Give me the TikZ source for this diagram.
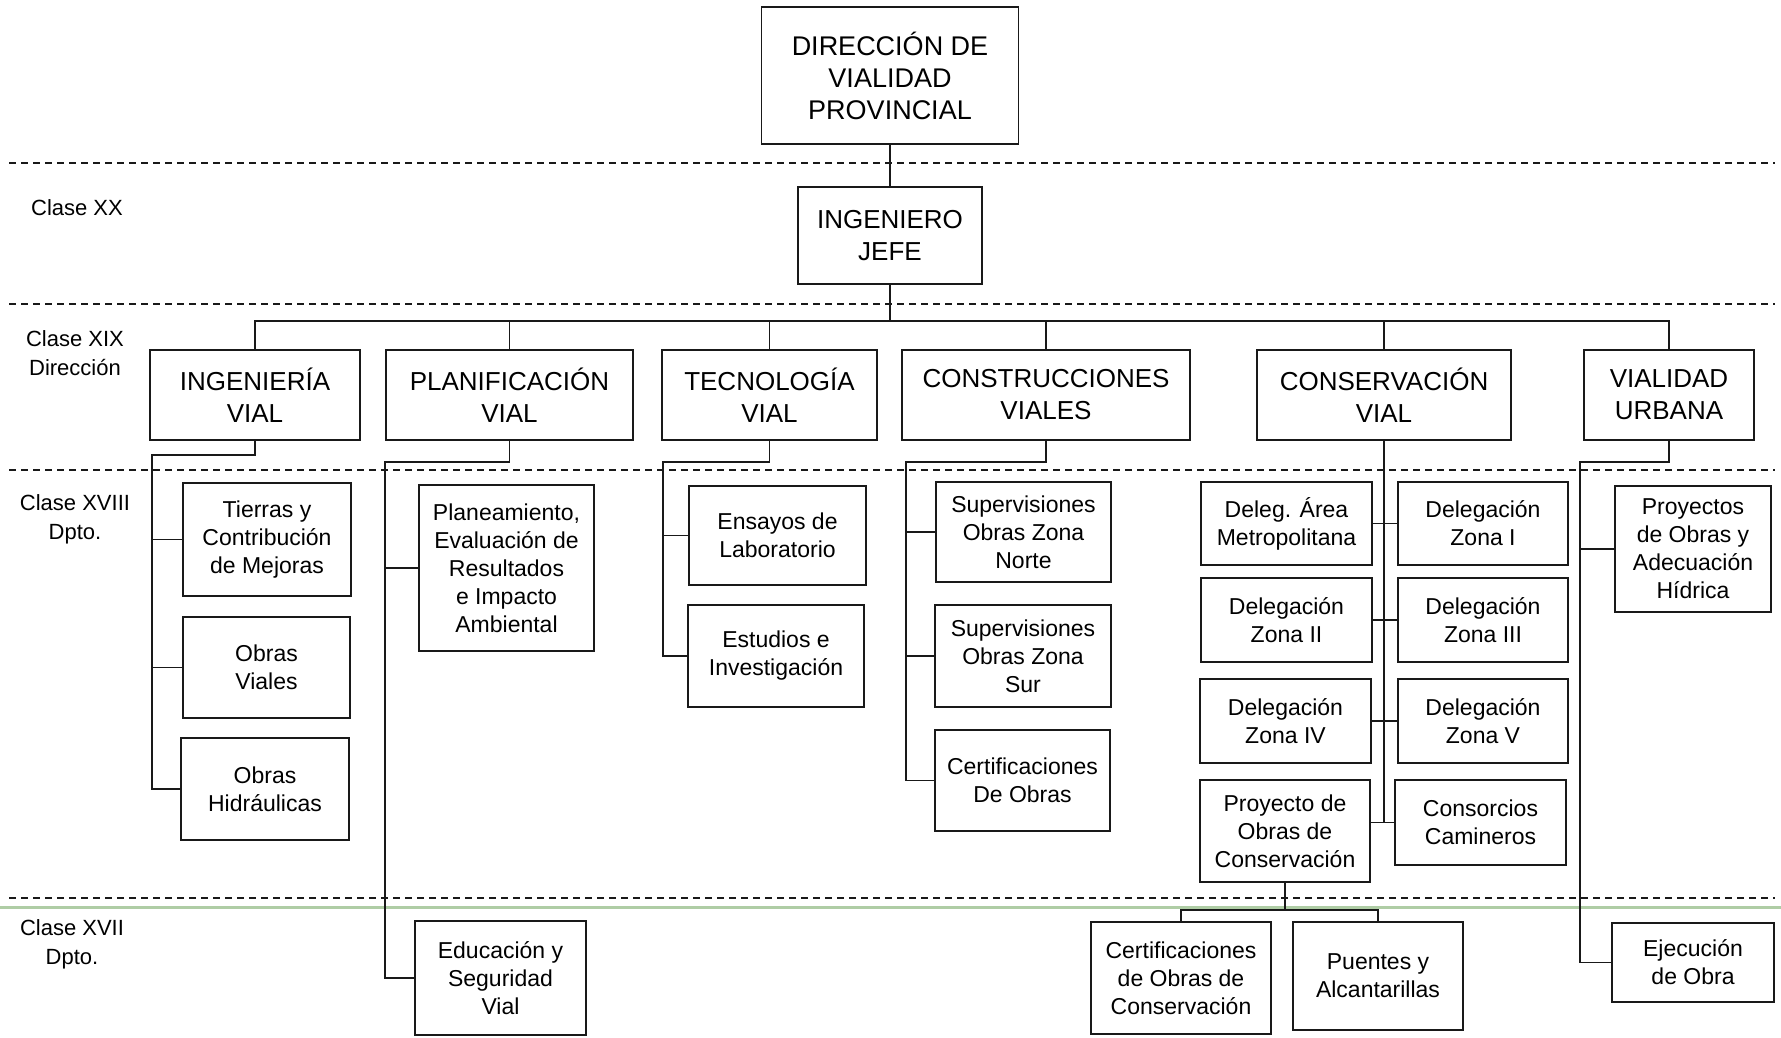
\documentclass[tikz,border=0pt]{standalone}
\usepackage{xcolor}
\usepackage{fontspec}
\usepackage{tikz}
\usetikzlibrary{calc,positioning}
\setmainfont{Liberation Sans}
\definecolor{lineColor}{RGB}{25, 25, 25}
\definecolor{scanColor}{RGB}{175, 205, 165}

\begin{document}
\begin{tikzpicture}[x=1pt,y=-1pt,
    topBox/.style={draw=lineColor,line width=1.6pt,align=center,inner sep=0pt,
      font=\fontsize{26}{32}\selectfont},
    deptBox/.style={draw=lineColor,line width=1.6pt,align=center,inner sep=0pt,
      font=\fontsize{23}{28}\selectfont},
    linkLine/.style={draw=lineColor,line width=1.6pt},
    classSep/.style={draw=lineColor,line width=1.3pt,dash pattern=on 7pt off 5pt},
    classLabel/.style={align=center,font=\fontsize{22}{29}\selectfont}]
    \useasboundingbox (0,0) rectangle (1781,1037);

    % Class separators
    \foreach \y in {163,304,470,898}
        \draw[classSep] (9,\y) -- (1775,\y);
    \draw[scanColor,line width=3pt] (0,907) -- (1781,907);

    % Class labels
    \node[classLabel] (lblXX) at (77,208) {Clase XX};
    \node[classLabel] (lblXIX) at (75,353) {Clase XIX\\Dirección};
    \node[classLabel] (lblXVIII) at (75,519) {Clase XVIII\\Dpto.};
    \node[classLabel] (lblXVII) at (72,944) {Clase XVII\\Dpto.};

    % Top of the chart
    \node[topBox,minimum width=257,minimum height=137,font=\fontsize{27}{32}\selectfont] (dvp) at (890,75.5) {DIRECCIÓN DE\\VIALIDAD\\PROVINCIAL};
    \node[topBox,minimum width=184,minimum height=97] (jefe) at (890,235.5) {INGENIERO\\JEFE};

    % Directions
    \node[topBox,minimum width=210,minimum height=90] (ingv) at (255,395) {INGENIERÍA\\VIAL};
    \node[topBox,minimum width=247,minimum height=90] (plan) at (509.5,395) {PLANIFICACIÓN\\VIAL};
    \node[topBox,minimum width=215,minimum height=90] (tec) at (769.5,395) {TECNOLOGÍA\\VIAL};
    \node[topBox,minimum width=288,minimum height=90] (constr) at (1046,395) {CONSTRUCCIONES\\VIALES};
    \node[topBox,minimum width=254,minimum height=90] (cvial) at (1384,395) {CONSERVACIÓN\\VIAL};
    \node[topBox,minimum width=170,minimum height=90] (urb) at (1669,395) {VIALIDAD\\URBANA};

    % Departments: Ingenieria Vial
    \node[deptBox,minimum width=168,minimum height=113] (tie) at (267,539.5) {Tierras y\\Contribución\\de Mejoras};
    \node[deptBox,minimum width=167,minimum height=101] (viales) at (266.5,667.5) {Obras\\Viales};
    \node[deptBox,minimum width=168,minimum height=102] (hid) at (265,789) {Obras\\Hidráulicas};

    % Departments: Planificacion Vial
    \node[deptBox,minimum width=175,minimum height=166] (plnm) at (506.5,568) {Planeamiento,\\Evaluación de\\Resultados\\e Impacto\\Ambiental};
    \node[deptBox,minimum width=171,minimum height=114] (edu) at (500.5,978) {Educación y\\Seguridad\\Vial};

    % Departments: Tecnologia Vial
    \node[deptBox,minimum width=177,minimum height=99] (ens) at (777.5,535.5) {Ensayos de\\Laboratorio};
    \node[deptBox,minimum width=176,minimum height=102] (est) at (776,656) {Estudios e\\Investigación};

    % Departments: Construcciones Viales
    \node[deptBox,minimum width=175,minimum height=100] (norte) at (1023.5,532) {Supervisiones\\Obras Zona\\Norte};
    \node[deptBox,minimum width=176,minimum height=102] (sur) at (1023,656) {Supervisiones\\Obras Zona\\Sur};
    \node[deptBox,minimum width=175,minimum height=101] (certo) at (1022.5,780.5) {Certificaciones\\De Obras};

    % Departments: Conservacion Vial
    \node[deptBox,minimum width=171,minimum height=83] (met) at (1286.5,523.5) {Deleg. Área\\Metropolitana};
    \node[deptBox,minimum width=171,minimum height=84] (z2) at (1286.5,620) {Delegación\\Zona II};
    \node[deptBox,minimum width=171,minimum height=84] (z4) at (1285.5,721) {Delegación\\Zona IV};
    \node[deptBox,minimum width=170,minimum height=102] (proy) at (1285,831) {Proyecto de\\Obras de\\Conservación};
    \node[deptBox,minimum width=170,minimum height=83] (z1) at (1483,523.5) {Delegación\\Zona I};
    \node[deptBox,minimum width=170,minimum height=84] (z3) at (1483,620) {Delegación\\Zona III};
    \node[deptBox,minimum width=170,minimum height=84] (z5) at (1483,721) {Delegación\\Zona V};
    \node[deptBox,minimum width=171,minimum height=85] (consc) at (1480.5,822.5) {Consorcios\\Camineros};
    \node[deptBox,minimum width=180,minimum height=112] (certc) at (1181,978) {Certificaciones\\de Obras de\\Conservación};
    \node[deptBox,minimum width=170,minimum height=108] (puen) at (1378,976) {Puentes y\\Alcantarillas};

    % Departments: Vialidad Urbana
    \node[deptBox,minimum width=156,minimum height=126] (hidr) at (1693,549) {Proyectos\\de Obras y\\Adecuación\\Hídrica};
    \node[deptBox,minimum width=162,minimum height=79] (ejec) at (1693,962.5) {Ejecución\\de Obra};

    % Upper links
    \draw[linkLine] (dvp) -- (jefe);
    \coordinate (bus) at (890,321);
    \draw[linkLine] (jefe) -- (bus);
    \draw[linkLine] (ingv.north) |- (bus) -| (urb.north);
    \foreach \n in {plan,tec,constr,cvial}
        \draw[linkLine] (\n.north) -- (\n.north |- bus);

    % Spines of the directions
    \coordinate (ingSpine) at (152,455);
    \draw[linkLine] (ingv.south) |- (ingSpine) |- (hid.west);
    \foreach \n in {tie,viales}
        \draw[linkLine] (ingSpine |- \n.west) -- (\n.west);

    \coordinate (planSpine) at (385,462);
    \draw[linkLine] (plan.south) |- (planSpine) |- (edu.west);
    \draw[linkLine] (planSpine |- plnm.west) -- (plnm.west);

    \coordinate (tecSpine) at (663,462);
    \draw[linkLine] (tec.south) |- (tecSpine) |- (est.west);
    \draw[linkLine] (tecSpine |- ens.west) -- (ens.west);

    \coordinate (constrSpine) at (906,462);
    \draw[linkLine] (constr.south) |- (constrSpine) |- (certo.west);
    \foreach \n in {norte,sur}
        \draw[linkLine] (constrSpine |- \n.west) -- (\n.west);

    \draw[linkLine] (cvial.south) -- (cvial.south |- consc.west);
    \draw[linkLine] (proy.east |- consc.west) -- (consc.west);
    \draw[linkLine] (met) -- (z1);
    \draw[linkLine] (z2) -- (z3);
    \draw[linkLine] (z4) -- (z5);
    \coordinate (proyBus) at (1281,910);
    \draw[linkLine] (proy.south) -- (proy.south |- proyBus);
    \draw[linkLine] (certc.north) |- (proyBus -| puen.north) -- (puen.north);

    \coordinate (urbSpine) at (1580,462);
    \draw[linkLine] (urb.south) |- (urbSpine) |- (ejec.west);
    \draw[linkLine] (urbSpine |- hidr.west) -- (hidr.west);
\end{tikzpicture}
\end{document}
